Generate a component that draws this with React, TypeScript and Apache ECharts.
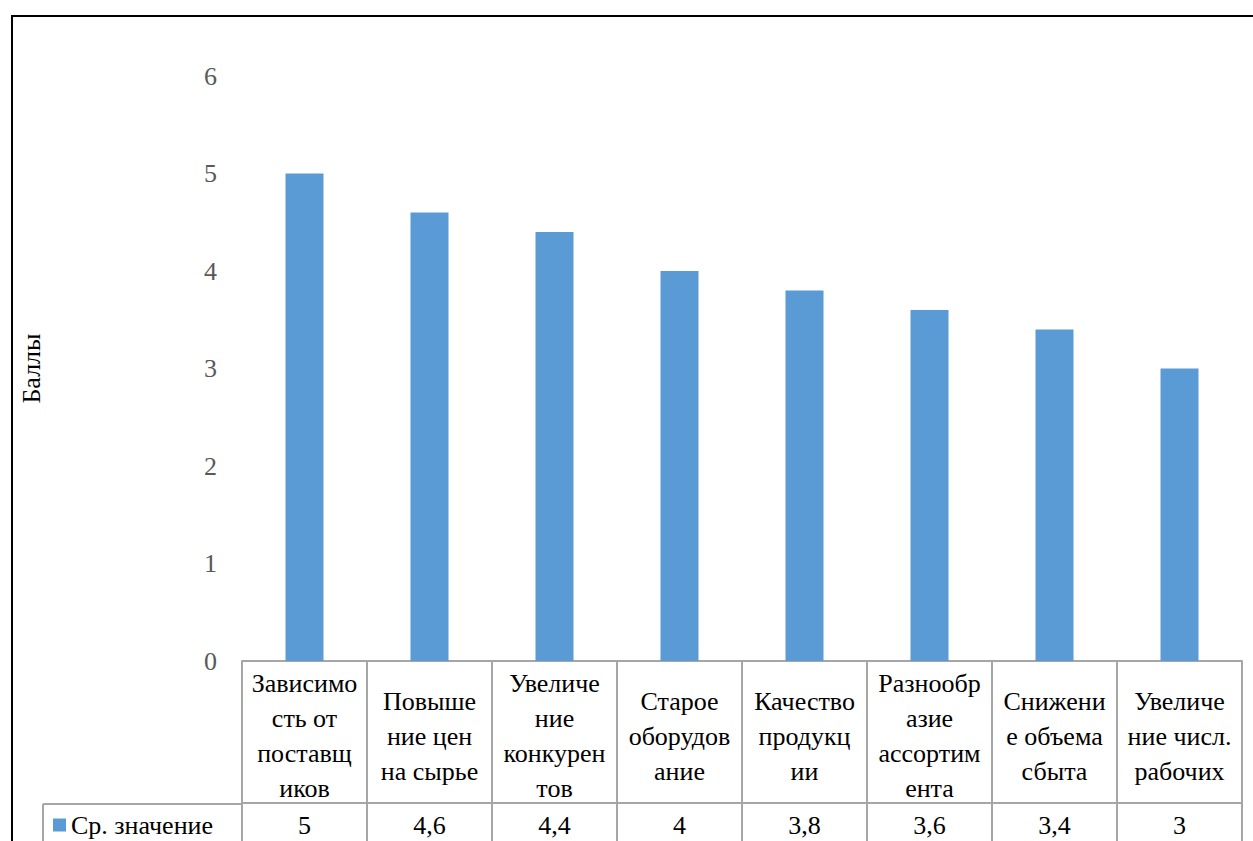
import React, { useEffect, useRef } from "react";
import * as echarts from "echarts";

const categories: string[] = [
  "Зависимо\nсть от\nпоставщ\nиков",
  "Повыше\nние цен\nна сырье",
  "Увеличе\nние\nконкурен\nтов",
  "Старое\nоборудов\nание",
  "Качество\nпродукц\nии",
  "Разнообр\nазие\nассортим\nента",
  "Снижени\nе объема\nсбыта",
  "Увеличе\nние числ.\nрабочих",
];
const values: number[] = [5, 4.6, 4.4, 4, 3.8, 3.6, 3.4, 3];
const seriesName = "Ср. значение";
const yAxisTitle = "Баллы";

const FONT = "Liberation Serif";
const FS = 26;
const GRID_COLOR = "#a6a6a6";

export default function App() {
  const ref = useRef<HTMLDivElement>(null);
  useEffect(() => {
    if (!ref.current) return;
    const chart = echarts.init(ref.current, undefined, { renderer: "svg" });
    chart.setOption({
      animation: false,
      textStyle: { fontFamily: FONT, fontSize: FS },
      grid: { left: 242, right: 11, top: 76, bottom: 180 },
      legend: {
        left: 53,
        top: 812,
        padding: 0,
        itemWidth: 13,
        itemHeight: 13,
        itemGap: 6,
        icon: "rect",
        textStyle: { fontFamily: FONT, fontSize: FS, color: "#000" },
        data: [seriesName],
      },
      xAxis: [
        {
          type: "category",
          data: categories,
          axisLine: { show: true, lineStyle: { color: GRID_COLOR, width: 2 } },
          axisTick: { show: true, inside: false, length: 180, lineStyle: { color: GRID_COLOR, width: 2 } },
          axisLabel: {
            interval: 0,
            margin: 75,
            verticalAlign: "middle",
            fontFamily: FONT,
            fontSize: FS,
            lineHeight: 35,
            color: "#000",
            formatter: (v: string) => `{c|${v}}`,
            rich: { c: { fontFamily: FONT, fontSize: FS, lineHeight: 35, color: "#000" } },
          },
        },
        {
          type: "category",
          data: categories,
          position: "bottom",
          offset: 142,
          axisLine: { show: true, lineStyle: { color: GRID_COLOR, width: 2 } },
          axisTick: { show: false },
          axisLabel: {
            interval: 0,
            margin: 22,
            verticalAlign: "middle",
            fontFamily: FONT,
            fontSize: FS,
            color: "#000",
            formatter: (_v: string, idx: number) => `{v|${String(values[idx]).replace(".", ",")}}`,
            rich: { v: { fontFamily: FONT, fontSize: FS, color: "#000" } },
          },
        },
      ],
      yAxis: {
        type: "value",
        min: 0,
        max: 6,
        interval: 1,
        name: yAxisTitle,
        nameLocation: "middle",
        nameRotate: 90,
        nameGap: 198,
        nameTextStyle: { fontFamily: FONT, fontSize: FS, color: "#000" },
        axisLine: { show: false },
        axisTick: { show: false },
        splitLine: { show: false },
        axisLabel: { margin: 25, fontFamily: FONT, fontSize: FS, color: "#595959" },
      },
      series: [
        {
          name: seriesName,
          type: "bar",
          data: values,
          barWidth: 38,
          itemStyle: { color: "#5B9BD5" },
        },
      ],
      graphic: [
        {
          type: "rect",
          shape: { x: 12, y: 16, width: 1400, height: 1000 },
          style: { fill: "none", stroke: "#000", lineWidth: 2 },
          silent: true,
        },
        {
          type: "line",
          shape: { x1: 43, y1: 804, x2: 243, y2: 804 },
          style: { stroke: GRID_COLOR, lineWidth: 2 },
          silent: true,
        },
        {
          type: "line",
          shape: { x1: 43, y1: 804, x2: 43, y2: 845 },
          style: { stroke: GRID_COLOR, lineWidth: 2 },
          silent: true,
        },
      ],
    });
    return () => chart.dispose();
  }, []);
  return (
    <div
      ref={ref}
      style={{ position: "fixed", left: 0, top: 0, width: 1253, height: 841, background: "#fff" }}
    />
  );
}
